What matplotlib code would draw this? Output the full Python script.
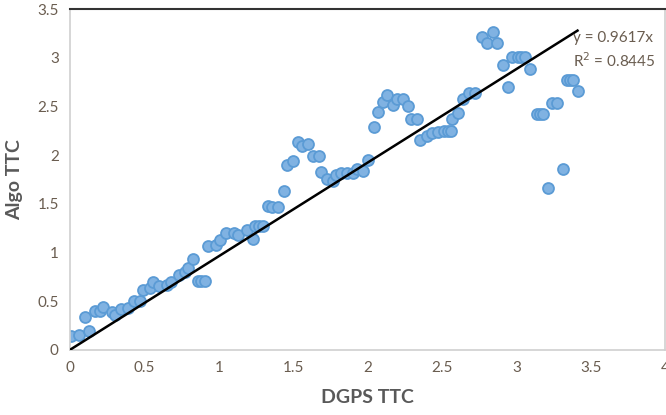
import numpy as np
import matplotlib.pyplot as plt

# values (DGPS TTC vs Algo TTC)
dgps_ttc = [0.01, 0.06, 0.13, 0.10, 0.17, 0.20, 0.22, 0.28, 0.30, 0.34,
            0.39, 0.43, 0.47, 0.49, 0.54, 0.56, 0.60, 0.65, 0.68, 0.73,
            0.77, 0.79, 0.83, 0.86, 0.88, 0.91, 0.93, 0.98, 1.01, 1.05,
            1.10, 1.13, 1.19, 1.23, 1.24, 1.27, 1.30, 1.33, 1.36, 1.40,
            1.44, 1.46, 1.50, 1.53, 1.56, 1.60, 1.63, 1.67, 1.69, 1.73,
            1.77, 1.79, 1.82, 1.86, 1.90, 1.93, 1.97, 2.00, 2.04, 2.07,
            2.10, 2.13, 2.17, 2.20, 2.24, 2.27, 2.29, 2.33, 2.35, 2.40,
            2.43, 2.47, 2.51, 2.54, 2.56, 2.57, 2.61, 2.64, 2.68, 2.72,
            2.77, 2.80, 2.84, 2.87, 2.91, 2.94, 2.97, 3.01, 3.03, 3.06,
            3.09, 3.14, 3.16, 3.18, 3.21, 3.24, 3.27, 3.31, 3.34, 3.36,
            3.38, 3.41]
algo_ttc = [0.14, 0.15, 0.19, 0.34, 0.40, 0.40, 0.44, 0.39, 0.36, 0.42,
            0.43, 0.50, 0.50, 0.61, 0.64, 0.70, 0.66, 0.67, 0.70, 0.77,
            0.80, 0.84, 0.93, 0.71, 0.71, 0.71, 1.07, 1.08, 1.13, 1.20,
            1.20, 1.18, 1.23, 1.14, 1.27, 1.27, 1.27, 1.48, 1.47, 1.47,
            1.63, 1.90, 1.94, 2.14, 2.09, 2.11, 1.99, 1.99, 1.83, 1.75,
            1.73, 1.80, 1.82, 1.82, 1.82, 1.86, 1.84, 1.95, 2.29, 2.44,
            2.55, 2.62, 2.52, 2.58, 2.58, 2.50, 2.37, 2.37, 2.16, 2.20,
            2.23, 2.24, 2.25, 2.25, 2.25, 2.37, 2.43, 2.58, 2.64, 2.64,
            3.21, 3.15, 3.27, 3.15, 2.93, 2.70, 3.01, 3.01, 3.01, 3.01,
            2.88, 2.42, 2.42, 2.42, 1.66, 2.54, 2.54, 1.86, 2.77, 2.77,
            2.77, 2.66]

slope = 0.9617
r_squared = 0.8445

text_col = '#6a5d50'
plt.rcParams['font.family'] = ['Lato', 'DejaVu Sans']

fig = plt.figure(figsize=(6.66, 4.15), dpi=100)
ax = fig.add_axes([0.105, 0.157, 0.894, 0.821])

ax.scatter(dgps_ttc, algo_ttc, s=62, c='#80b2e2', edgecolors='#5b9bd5',
           linewidths=1.3, zorder=2)

# linear trendline through origin
x_fit = np.array([0, max(dgps_ttc)])
ax.plot(x_fit, slope * x_fit, color='black', lw=1.8, zorder=3)
ax.text(3.38, 3.28, 'y = %.4fx\nR$^2$ = %.4f' % (slope, r_squared),
        fontsize=11, color=text_col, va='top', ha='left',
        linespacing=1.4, zorder=4)

ax.set_xlim(0, 4)
ax.set_ylim(0, 3.5)
ax.set_xticks(np.arange(0, 4.01, 0.5))
ax.set_yticks(np.arange(0, 3.51, 0.5))
ax.set_xticklabels(['0', '0.5', '1', '1.5', '2', '2.5', '3', '3.5', '4'])
ax.set_yticklabels(['0', '0.5', '1', '1.5', '2', '2.5', '3', '3.5'])
ax.tick_params(length=0, labelsize=11, labelcolor=text_col, pad=8)

for side in ['left', 'bottom', 'right']:
    ax.spines[side].set_color('#d0d0d0')
    ax.spines[side].set_linewidth(1.2)
ax.spines['top'].set_color('#333333')
ax.spines['top'].set_linewidth(1.5)

ax.set_xlabel('DGPS TTC', fontsize=14, fontweight='bold', color='#595959',
              labelpad=10)
ax.set_ylabel('Algo TTC', fontsize=14, fontweight='bold', color='#595959',
              labelpad=10)

fig.savefig('out.png', dpi=100)
